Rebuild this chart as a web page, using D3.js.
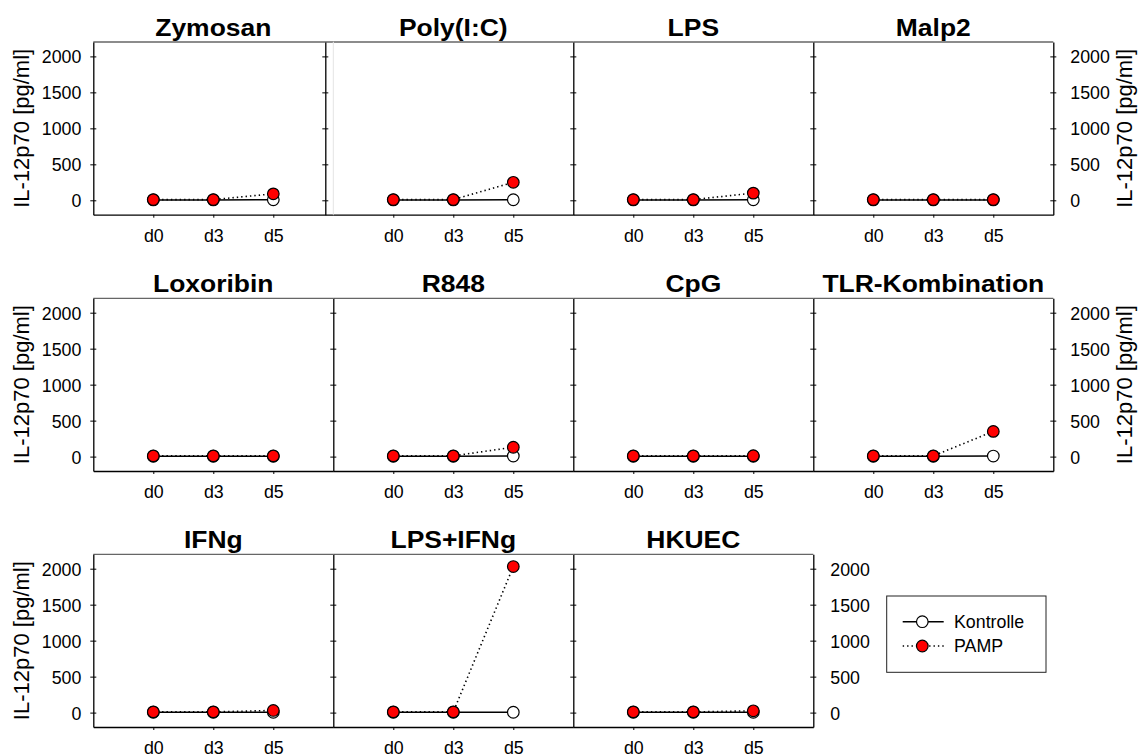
<!DOCTYPE html>
<html>
<head>
<meta charset="utf-8">
<script src="https://cdn.jsdelivr.net/npm/d3@7"></script>
<style>
  body { margin: 0; background: #fff; }
  svg { display: block; }
</style>
</head>
<body>
<svg id="chart" width="1141" height="755"></svg>
<script>
// IL-12p70 release over time per stimulus (Kontrolle vs. PAMP)
const days = ["d0", "d3", "d5"];
const stimuli = ["Zymosan", "Poly(I:C)", "LPS", "Malp2",
                 "Loxoribin", "R848", "CpG", "TLR-Kombination",
                 "IFNg", "LPS+IFNg", "HKUEC"];
const kontrolle = [
  [5, 5, 8], [5, 5, 8], [5, 5, 8], [5, 5, 5],
  [5, 5, 5], [5, 5, 8], [5, 5, 5], [5, 5, 8],
  [5, 5, 5], [5, 5, 5], [5, 5, 5]
];
const pamp = [
  [10, 10, 90], [10, 10, 250], [10, 10, 100], [10, 10, 10],
  [10, 10, 10], [10, 10, 130], [10, 10, 12], [10, 10, 350],
  [10, 10, 30], [10, 10, 2030], [10, 10, 25]
];
const yTicks = [0, 500, 1000, 1500, 2000];
const seriesNames = ["Kontrolle", "PAMP"];
const yTitle = "IL-12p70 [pg/ml]";

const FONT = '"Liberation Sans", Arial, Helvetica, sans-serif';
const nCols = 4;
const left0 = 93.3, panelW = 240, panelH = 172.7;
const rowTops = [42, 298.3, 554.3];
const yDomain = [-200, 2200];
const fmt = d3.format("d");
const R = 5.8;

const svg = d3.select("#chart");

function styleYAxis(sel) {
  sel.attr("font-family", FONT).attr("font-size", 17.8);
  sel.selectAll(".tick line").attr("x1", -3).attr("x2", 3).attr("stroke-width", 1);
  sel.selectAll(".tick text").attr("dy", "0.36em").attr("fill", "#000");
  sel.select(".domain").attr("stroke-width", 1.3);
}

stimuli.forEach((name, i) => {
  const row = Math.floor(i / nCols), col = i % nCols;
  const nInRow = Math.min(nCols, stimuli.length - row * nCols);
  const x0 = left0 + col * panelW;
  const top = rowTops[row], bottom = top + panelH;

  const x = d3.scalePoint().domain(days).range([x0, x0 + panelW]).padding(1);
  const y = d3.scaleLinear().domain(yDomain).range([bottom, top]);

  const g = svg.append("g");

  // frame: top edge
  g.append("line")
    .attr("x1", x0).attr("x2", x0 + panelW)
    .attr("y1", top).attr("y2", top)
    .attr("stroke", "#666").attr("stroke-width", 1.3);

  // bottom axis
  const xa = g.append("g")
    .attr("transform", `translate(0,${bottom})`)
    .call(d3.axisBottom(x).tickSize(3).tickSizeOuter(0));
  xa.attr("font-family", FONT).attr("font-size", 17.8);
  xa.select(".domain").attr("stroke-width", 1.3);
  xa.selectAll(".tick text").attr("y", 27).attr("dy", 0).attr("fill", "#000");

  // left side: labelled axis on the first column, shared divider elsewhere
  if (col === 0) {
    const ya = g.append("g")
      .attr("transform", `translate(${x0},0)`)
      .call(d3.axisLeft(y).tickValues(yTicks).tickFormat(fmt)
        .tickSize(3).tickPadding(9).tickSizeOuter(0));
    styleYAxis(ya);
    g.append("text")
      .attr("transform", `translate(29,${(top + bottom) / 2}) rotate(-90)`)
      .attr("text-anchor", "middle")
      .attr("font-family", FONT).attr("font-size", 22)
      .text(yTitle);
  } else {
    // the first divider of the top row sits slightly left of the panel edge
    const shift = (row === 0 && col === 1) ? -8 : 0;
    if (shift !== 0) {
      g.append("line")
        .attr("x1", x0).attr("x2", x0).attr("y1", top).attr("y2", bottom)
        .attr("stroke", "#e4e4e4").attr("stroke-width", 1);
    }
    const ya = g.append("g")
      .attr("transform", `translate(${x0 + shift},0)`)
      .call(d3.axisLeft(y).tickValues(yTicks).tickSize(3).tickFormat("").tickSizeOuter(0));
    styleYAxis(ya);
  }

  // right side of the last panel in each row
  if (col === nInRow - 1) {
    const ya = g.append("g")
      .attr("transform", `translate(${x0 + panelW},0)`)
      .call(d3.axisRight(y).tickValues(yTicks).tickFormat(fmt)
        .tickSize(3).tickPadding(14).tickSizeOuter(0));
    styleYAxis(ya);
    if (nInRow === nCols) {
      g.append("text")
        .attr("transform", `translate(1132,${(top + bottom) / 2}) rotate(-90)`)
        .attr("text-anchor", "middle")
        .attr("font-family", FONT).attr("font-size", 22)
        .text(yTitle);
    }
  }

  // panel title
  g.append("text")
    .attr("transform", `translate(${x0 + panelW / 2},${top - 6}) scale(1.08,1)`)
    .attr("text-anchor", "middle")
    .attr("font-family", FONT).attr("font-weight", "bold").attr("font-size", 24.5)
    .text(name);

  const line = d3.line().x((d, j) => x(days[j])).y(d => y(d));

  g.append("path").datum(kontrolle[i])
    .attr("d", line).attr("fill", "none")
    .attr("stroke", "#000").attr("stroke-width", 1.6);
  g.append("path").datum(pamp[i])
    .attr("d", line).attr("fill", "none")
    .attr("stroke", "#000").attr("stroke-width", 1.6)
    .attr("stroke-dasharray", "1.4,3");

  g.selectAll(".k").data(kontrolle[i]).join("circle")
    .attr("cx", (d, j) => x(days[j])).attr("cy", d => y(d)).attr("r", R)
    .attr("fill", "#fff").attr("stroke", "#000").attr("stroke-width", 1.2);
  g.selectAll(".p").data(pamp[i]).join("circle")
    .attr("cx", (d, j) => x(days[j])).attr("cy", d => y(d)).attr("r", R)
    .attr("fill", "#ff0000").attr("stroke", "#000").attr("stroke-width", 1.2);
});

// legend
const lg = svg.append("g").attr("transform", "translate(886.7,596)");
lg.append("rect").attr("width", 159.3).attr("height", 76.3)
  .attr("fill", "#fff").attr("stroke", "#222").attr("stroke-width", 1);
seriesNames.forEach((s, k) => {
  const ly = 25.7 + k * 24.3;
  lg.append("line").attr("x1", 16).attr("x2", 57).attr("y1", ly).attr("y2", ly)
    .attr("stroke", "#000").attr("stroke-width", 1.5)
    .attr("stroke-dasharray", k === 0 ? null : "1.4,3");
  lg.append("circle").attr("cx", 35.6).attr("cy", ly).attr("r", R)
    .attr("fill", k === 0 ? "#fff" : "#ff0000")
    .attr("stroke", "#000").attr("stroke-width", 1.2);
  lg.append("text").attr("x", 67.3).attr("y", ly).attr("dy", "0.36em")
    .attr("font-family", FONT).attr("font-size", 17.8).text(s);
});
</script>
</body>
</html>
